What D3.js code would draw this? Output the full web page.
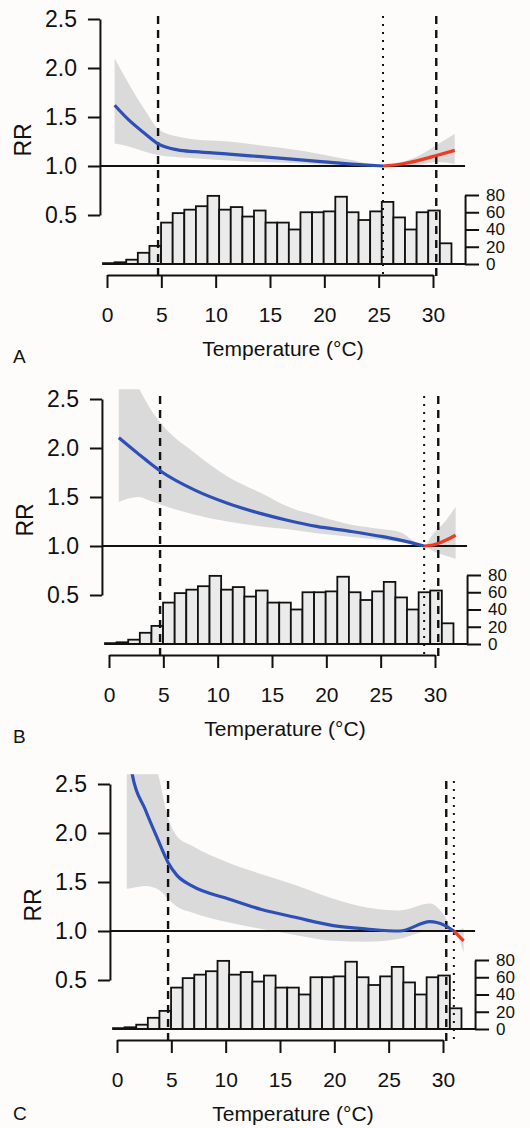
<!DOCTYPE html>
<html>
<head>
<meta charset="utf-8">
<script src="https://cdnjs.cloudflare.com/ajax/libs/d3/7.8.5/d3.min.js"></script>
<style>
    body { margin: 0; background: #fdfcfa; }
    svg { display: block; font-family: "Liberation Sans", Arial, sans-serif; }
</style>
</head>
<body>
<svg id="chart" width="530" height="1128"></svg>
<script>
// histogram of daily temperature (same in all three panels)
const histMin = -0.37, histMax = 31.7;
const histCounts = [1, 2, 5, 13, 21, 48, 59, 63, 67, 79, 63, 66, 55, 62, 48, 48, 40, 60, 60, 61, 78, 60, 51, 61, 72, 54, 40, 60, 62, 24];

const rrTicks = [0.5, 1.0, 1.5, 2.0, 2.5];
const tempTicks = [0, 5, 10, 15, 20, 25, 30];
const countTicks = [0, 20, 40, 60, 80];
const cutLow = 4.7, cutHigh = 30.3;   // dashed percentile lines

// panel A
const tempA = [0.7, 2.0, 3.5, 4.8, 6.5, 8.1, 11.2, 14.2, 17.0, 19.7, 22.5, 25.4, 27.1, 28.6, 30.4, 32.0];
const rrA   = [1.62, 1.47, 1.33, 1.22, 1.165, 1.146, 1.122, 1.095, 1.07, 1.045, 1.02, 1.0, 1.02, 1.055, 1.11, 1.16];
const loA   = [1.23, 1.20, 1.146, 1.11, 1.09, 1.08, 1.055, 1.04, 1.03, 1.015, 1.005, 1.0, 1.0, 1.01, 1.04, 1.02];
const hiA   = [2.10, 1.84, 1.57, 1.37, 1.30, 1.27, 1.25, 1.21, 1.17, 1.12, 1.06, 1.0, 1.04, 1.10, 1.22, 1.33];
const mmtA = 25.4;

// panel B
const tempB = [0.9, 2.7, 3.6, 4.8, 7.9, 10.9, 14.0, 16.5, 19.1, 22.2, 25.2, 26.8, 29.0, 29.8, 31.0, 31.9];
const rrB   = [2.105, 1.94, 1.86, 1.76, 1.57, 1.436, 1.33, 1.26, 1.20, 1.15, 1.095, 1.06, 1.0, 1.01, 1.06, 1.11];
const loB   = [1.45, 1.50, 1.47, 1.42, 1.32, 1.25, 1.20, 1.17, 1.13, 1.095, 1.06, 1.04, 1.0, 0.95, 0.90, 0.87];
const hiB   = [3.0, 2.62, 2.44, 2.25, 1.95, 1.71, 1.54, 1.40, 1.31, 1.22, 1.17, 1.14, 1.0, 1.12, 1.26, 1.40];
const mmtB = 29.0;

// panel C
const tempC = [0.9, 1.4, 2.6, 3.7, 4.7, 5.5, 6.9, 10.2, 13.3, 16.4, 19.9, 23.0, 26.0, 28.8, 30.1, 31.0, 31.9];
const rrC   = [3.0, 2.6, 2.24, 1.95, 1.70, 1.57, 1.46, 1.33, 1.22, 1.14, 1.055, 1.02, 1.0, 1.095, 1.06, 1.0, 0.90];
const loC   = [1.43, 1.44, 1.46, 1.43, 1.33, 1.25, 1.19, 1.09, 1.02, 0.96, 0.90, 0.89, 0.92, 1.0, 1.0, 1.0, 0.78];
const hiC   = [3.4, 3.2, 2.9, 2.64, 2.15, 1.97, 1.87, 1.70, 1.58, 1.47, 1.33, 1.24, 1.21, 1.28, 1.16, 1.0, 1.03];
const mmtC = 31.0;

const panels = [
    { label: "A", temp: tempA, rr: rrA, lo: loA, hi: hiA, mmt: mmtA, dx: 0, dy: 0 },
    { label: "B", temp: tempB, rr: rrB, lo: loB, hi: hiB, mmt: mmtB, dx: 2, dy: 380 },
    { label: "C", temp: tempC, rr: rrC, lo: loC, hi: hiC, mmt: mmtC, dx: 10, dy: 765 }
];

const svg = d3.select("#chart");
const blue = "#2e50b6", red = "#ee3b22", band = "#dadada";
const histEdges = d3.range(histCounts.length + 1).map(i => histMin + i * (histMax - histMin) / histCounts.length);

panels.forEach((p, k) => {
    const g = svg.append("g");
    const x = d3.scaleLinear().domain([0, 30]).range([107 + p.dx, 433 + p.dx]);
    const y = d3.scaleLinear().domain([0.5, 2.5]).range([215 + p.dy, 19 + p.dy]);
    const yc = d3.scaleLinear().domain([0, 80]).range([264 + p.dy, 195 + p.dy]);
    const leftT = -0.65, rightT = 32.95;

    const clipId = "clip" + k;
    g.append("clipPath").attr("id", clipId).append("rect")
        .attr("x", x(leftT)).attr("y", y(2.6))
        .attr("width", x(rightT) - x(leftT)).attr("height", y(0.4) - y(2.6));

    const pts = p.temp.map((t, i) => ({ t: t, rr: p.rr[i], lo: p.lo[i], hi: p.hi[i] }));

    // confidence band
    g.append("path")
        .datum(pts)
        .attr("clip-path", `url(#${clipId})`)
        .attr("fill", band)
        .attr("d", d3.area().x(d => x(d.t)).y0(d => y(d.lo)).y1(d => y(d.hi)).curve(d3.curveMonotoneX));

    // histogram bars
    g.append("g").selectAll("rect")
        .data(histCounts)
        .enter().append("rect")
        .attr("x", (d, i) => x(histEdges[i]))
        .attr("width", (d, i) => x(histEdges[i + 1]) - x(histEdges[i]))
        .attr("y", d => yc(d))
        .attr("height", d => yc(0) - yc(d))
        .attr("fill", "#ebebeb")
        .attr("stroke", "#111")
        .attr("stroke-width", 1.8);

    g.append("line")
        .attr("x1", x(histMin)).attr("x2", x(rightT))
        .attr("y1", yc(0)).attr("y2", yc(0))
        .attr("stroke", "#111").attr("stroke-width", 2);

    // reference line RR = 1
    g.append("line")
        .attr("x1", x(leftT)).attr("x2", x(rightT))
        .attr("y1", y(1)).attr("y2", y(1))
        .attr("stroke", "#111").attr("stroke-width", 2);

    // vertical cut-off lines
    const vlines = [
        { t: cutLow, dash: "8,6" },
        { t: cutHigh, dash: "8,6" },
        { t: p.mmt, dash: "2,6" }
    ];
    g.append("g").selectAll("line")
        .data(vlines)
        .enter().append("line")
        .attr("x1", d => x(d.t)).attr("x2", d => x(d.t))
        .attr("y1", y(2.53)).attr("y2", 277 + p.dy)
        .attr("stroke", "#111")
        .attr("stroke-width", d => d.dash === "2,6" ? 2 : 2.4)
        .attr("stroke-dasharray", d => d.dash);

    // RR curve, blue below MMT, red above
    const line = d3.line().x(d => x(d.t)).y(d => y(d.rr)).curve(d3.curveMonotoneX);
    g.append("path")
        .datum(pts.filter(d => d.t <= p.mmt))
        .attr("clip-path", `url(#${clipId})`)
        .attr("fill", "none").attr("stroke", blue).attr("stroke-width", 3.2)
        .attr("d", line);
    g.append("path")
        .datum(pts.filter(d => d.t >= p.mmt))
        .attr("clip-path", `url(#${clipId})`)
        .attr("fill", "none").attr("stroke", red).attr("stroke-width", 3.2)
        .attr("d", line);

    // axes
    const xAxis = g.append("g")
        .attr("transform", `translate(0,${275 + p.dy})`)
        .call(d3.axisBottom(x).tickValues(tempTicks).tickSize(13).tickSizeOuter(0).tickPadding(19));

    const yAxis = g.append("g")
        .attr("transform", `translate(${x(leftT)},0)`)
        .call(d3.axisLeft(y).tickValues(rrTicks).tickSize(12).tickSizeOuter(0).tickPadding(11).tickFormat(d3.format(".1f")));

    const cAxis = g.append("g")
        .attr("transform", `translate(${x(rightT)},0)`)
        .call(d3.axisRight(yc).tickValues(countTicks).tickSize(14).tickSizeOuter(0).tickPadding(7));

    [xAxis, yAxis, cAxis].forEach(a => {
        a.selectAll("path, line").attr("stroke", "#111").attr("stroke-width", 2);
        a.selectAll("text").attr("fill", "#111").style("font-family", "'Liberation Sans', Arial, sans-serif");
    });
    xAxis.selectAll("text").style("font-size", "21px");
    yAxis.selectAll("text").style("font-size", "23px");
    cAxis.selectAll("text").style("font-size", "17px");

    // labels
    g.append("text")
        .attr("x", 283 + p.dx).attr("y", 356 + p.dy)
        .attr("text-anchor", "middle")
        .style("font-size", "21px").attr("fill", "#111")
        .text("Temperature (°C)");

    g.append("text")
        .attr("transform", `translate(${31 + p.dx},${140 + p.dy}) rotate(-90)`)
        .attr("text-anchor", "middle")
        .style("font-size", "23px").attr("fill", "#111")
        .text("RR");

    g.append("text")
        .attr("x", 13).attr("y", Math.min(363 + p.dy, 1120))
        .style("font-size", "19px").attr("fill", "#111")
        .text(p.label);
});
</script>
</body>
</html>
